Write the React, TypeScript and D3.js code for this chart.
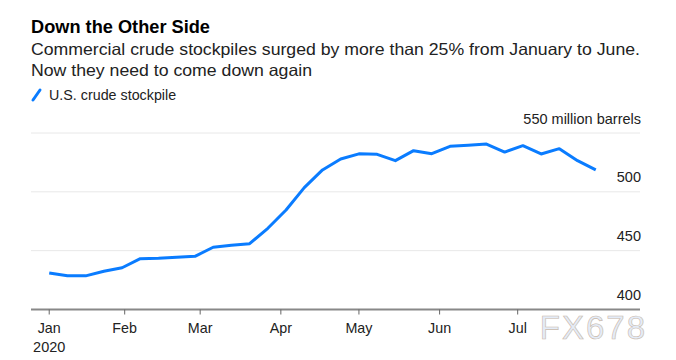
import React from "react"
import * as d3 from "d3"

// weekly U.S. commercial crude stocks, million barrels
const weeks = [
  "2020-01-03", "2020-01-10", "2020-01-17", "2020-01-24", "2020-01-31",
  "2020-02-07", "2020-02-14", "2020-02-21", "2020-02-28",
  "2020-03-06", "2020-03-13", "2020-03-20", "2020-03-27",
  "2020-04-03", "2020-04-10", "2020-04-17", "2020-04-24",
  "2020-05-01", "2020-05-08", "2020-05-15", "2020-05-22", "2020-05-29",
  "2020-06-05", "2020-06-12", "2020-06-19", "2020-06-26",
  "2020-07-03", "2020-07-10", "2020-07-17", "2020-07-24", "2020-07-31"
]
const stockpile = [
  431.1, 428.6, 428.6, 432.5, 435.5,
  443.2, 443.5, 444.4, 445.2,
  452.9, 454.6, 455.9, 469.0,
  484.6, 503.6, 518.6, 527.9,
  532.3, 531.9, 526.5, 535.0, 532.4,
  538.7, 539.5, 540.6, 533.8,
  539.2, 532.2, 536.7, 526.5, 518.6
]
const yTicks = [400, 450, 500, 550]
const monthTicks = ["2020-01-03", "2020-02-01", "2020-03-01", "2020-04-01", "2020-05-01", "2020-06-01", "2020-07-01"]
const monthLabels = ["Jan", "Feb", "Mar", "Apr", "May", "Jun", "Jul"]

const W = 676, H = 360
const left = 31, right = 640, top = 133, bottom = 309.5
const font = "'Liberation Sans', Arial, Helvetica, sans-serif"
const blue = "#0a7cff"

const parse = d3.timeParse("%Y-%m-%d")

export default function App() {
  const x = d3.scaleTime()
    .domain([new Date(2019, 11, 27), new Date(2020, 7, 17)])
    .range([left, right])
  const y = d3.scaleLinear().domain([400, 550]).range([bottom, top])

  const data = weeks.map((w, i) => ({ date: parse(w) as Date, value: stockpile[i] }))
  const line = d3.line<{ date: Date, value: number }>()
    .x(d => x(d.date))
    .y(d => y(d.value))

  return (
    <svg width={W} height={H} style={{ position: "absolute", left: 0, top: 0, background: "#fff" }} fontFamily={font}>
      {/* header */}
      <text x={31} y={33} fontSize={18} fontWeight="bold" fill="#000" textLength={179} lengthAdjust="spacingAndGlyphs">Down the Other Side</text>
      <text x={31} y={55} fontSize={16.5} fill="#222" textLength={609} lengthAdjust="spacingAndGlyphs">Commercial crude stockpiles surged by more than 25% from January to June.</text>
      <text x={31} y={76} fontSize={16.5} fill="#222" textLength={281} lengthAdjust="spacingAndGlyphs">Now they need to come down again</text>
      <line x1={33} y1={100} x2={40} y2={90} stroke={blue} strokeWidth={3} strokeLinecap="round" />
      <text x={49} y={100} fontSize={14.3} fill="#222">U.S. crude stockpile</text>

      {/* grid + y labels */}
      {yTicks.filter(t => t > 400).map(t => (
        <line key={t} x1={left} x2={right} y1={y(t)} y2={y(t)} stroke="#e8e8e8" strokeWidth={1} />
      ))}
      {yTicks.map(t => (
        <text key={t} x={641} y={y(t) - 9.5} fontSize={14.5} fill="#222" textAnchor="end">
          {t === 550 ? "550 million barrels" : t}
        </text>
      ))}

      {/* x axis */}
      <line x1={left} x2={right} y1={bottom} y2={bottom} stroke="#888" strokeWidth={2} />
      {monthTicks.map((m, i) => {
        const px = x(parse(m) as Date)
        return (
          <g key={m}>
            <line x1={px} x2={px} y1={bottom} y2={bottom + 5} stroke="#666" strokeWidth={1} />
            <text x={px} y={333} fontSize={14.3} fill="#222" textAnchor="middle">{monthLabels[i]}</text>
            {i === 0 && <text x={px} y={352} fontSize={14.5} fill="#222" textAnchor="middle">2020</text>}
          </g>
        )
      })}

      {/* series */}
      <path d={line(data) || ""} fill="none" stroke={blue} strokeWidth={3} strokeLinejoin="round" />

      {/* watermark */}
      <text x={647} y={339} fontSize={33} textAnchor="end" fill="#e4ecf8" stroke="#c9b9aa" strokeWidth={0.6} letterSpacing={2}>FX678</text>
    </svg>
  )
}
